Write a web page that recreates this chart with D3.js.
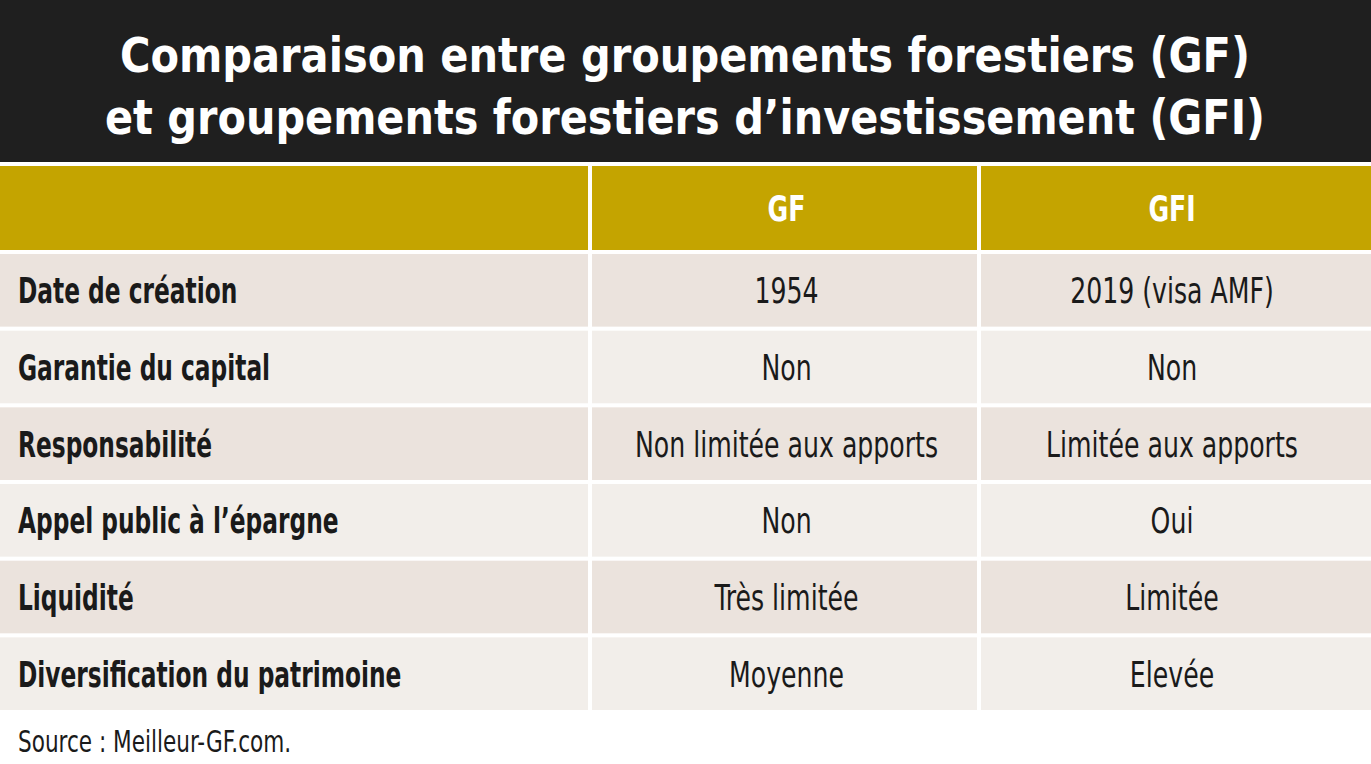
<!DOCTYPE html><html><head><meta charset="utf-8"><script src="https://cdn.jsdelivr.net/npm/d3@7"></script>
<style>body{margin:0;background:#fff}</style></head><body><svg id="c" width="1371" height="764"></svg>
<script>
const titleLines=["Comparaison entre groupements forestiers (GF)","et groupements forestiers d’investissement (GFI)"];
const columns=["","GF","GFI"];
const categories=["Date de création","Garantie du capital","Responsabilité","Appel public à l’épargne","Liquidité","Diversification du patrimoine"];
const gfValues=["1954","Non","Non limitée aux apports","Non","Très limitée","Moyenne"];
const gfiValues=["2019 (visa AMF)","Non","Limitée aux apports","Oui","Limitée","Elevée"];
const source="Source : Meilleur-GF.com.";
const svg=d3.select("#c");
const F="'DejaVu Sans Condensed',sans-serif";
function squeeze(t,k){const L=t.node().getComputedTextLength();t.attr("textLength",L*k).attr("lengthAdjust","spacingAndGlyphs");}
svg.append("rect").attr("width",1371).attr("height",162).attr("fill","#1f1f1f");
const tw=[1130,1160];
titleLines.forEach((t,i)=>{const el=svg.append("text").attr("x",685).attr("y",72+i*62).attr("text-anchor","middle")
 .attr("fill","#fff").attr("font-family",F).attr("font-weight","bold").attr("font-size",48).text(t);
 el.attr("textLength",tw[i]).attr("lengthAdjust","spacingAndGlyphs");});
const x=d3.scaleOrdinal().domain([0,1,2]).range([0,592,981]);
const w=[588,385,390];
const y=d3.scaleBand().domain(d3.range(6)).range([254,710]).paddingInner(4/76);
function rowY(ri){return ri===0?166:y(ri-1);}
function rowH(ri){return ri===0?84:y.bandwidth();}
const rows=[columns].concat(categories.map((c,i)=>[c,gfValues[i],gfiValues[i]]));
rows.forEach((r,ri)=>{
 r.forEach((v,ci)=>{
  const fill=ri===0?"#c4a400":(ri%2===1?"#ebe3dd":"#f2eeea");
  svg.append("rect").attr("x",x(ci)).attr("y",rowY(ri)).attr("width",w[ci]).attr("height",rowH(ri)).attr("fill",fill);
  if(!v)return;
  const t=svg.append("text").attr("y",rowY(ri)+rowH(ri)/2+13).attr("font-family",F).attr("font-size",35);
  if(ci===0){t.attr("x",18).attr("font-weight","bold").attr("fill","#1a1a1a");}
  else{t.attr("x",x(ci)+w[ci]/2-(ci===1?-2:4)).attr("text-anchor","middle").attr("fill",ri===0?"#fff":"#1a1a1a").attr("font-weight",ri===0?"bold":"normal");}
  t.text(v);
  squeeze(t,ci===0?0.74:0.8);
 });
});
const s=svg.append("text").attr("x",18).attr("y",752).attr("font-family",F).attr("font-size",30).attr("fill","#1a1a1a").text(source);
squeeze(s,0.8);
</script></body></html>
